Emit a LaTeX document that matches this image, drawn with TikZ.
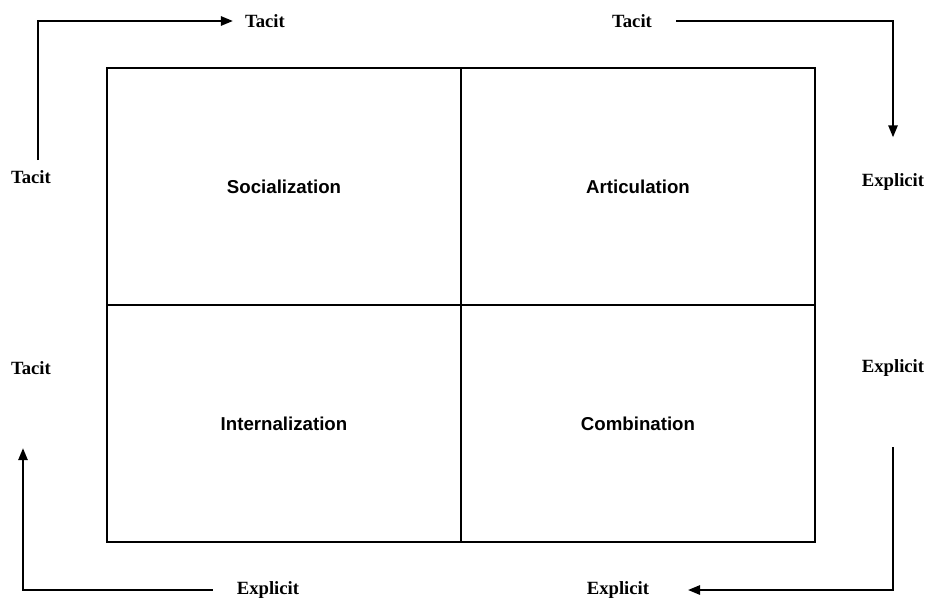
\documentclass[tikz,border=0pt]{standalone}
\usepackage{fontspec}
\setmainfont{Liberation Serif}
\setsansfont{Liberation Sans}
\usetikzlibrary{arrows.meta}
\tikzset{cell/.style={draw,line width=1.4pt,minimum width=265.5pt,minimum height=177.75pt,inner sep=0pt,
                      font=\sffamily\bfseries\fontsize{14}{16}\selectfont}}
\tikzset{mode/.style={inner sep=0pt,font=\bfseries\fontsize{14}{16}\selectfont}}

\begin{document}
\begin{tikzpicture}[x=0.75pt,y=-0.75pt,
                    flow/.style={line width=1.4pt,-{Triangle[length=9pt,width=7pt]}}]

		\useasboundingbox (0,0) rectangle (927,599);

		% The four cells of the matrix
		\node [cell] (soc)  at (284,186.5) {Socialization};
		\node [cell] (art)  at (638,186.5) {Articulation};
		\node [cell] (intl) at (284,423.5) {Internalization};
		\node [cell] (comb) at (638,423.5) {Combination};

		% Labels round the matrix
		\node [mode] (tacitA) at (31,177)  {Tacit};
		\node [mode] (tacitB) at (265,21)  {Tacit};
		\node [mode] (tacitC) at (632,21)  {Tacit};
		\node [mode] (explA)  at (893,182) {Explicit};
		\node [mode] (explB)  at (893,368) {Explicit};
		\node [mode] (explC)  at (618,590) {Explicit};
		\node [mode] (explD)  at (268,590) {Explicit};
		\node [mode] (tacitD) at (31,368)  {Tacit};

		% Tacit to tacit
		\draw [flow, shorten <=7.5pt, shorten >=9pt]
			([xshift=5pt]tacitA.north) |- (tacitB.west);

		% Tacit to explicit
		\draw [flow, shorten <=18pt, shorten >=27pt]
			(tacitC.east) -| (explA.north);

		% Explicit to explicit
		\draw [flow, shorten <=53pt, shorten >=29pt]
			(explB.south) |- (explC.east);

		% Explicit to tacit
		\draw [flow, shorten <=18pt, shorten >=55pt]
			(explD.west) -| ([xshift=-6pt]tacitD.south);

	\end{tikzpicture}
\end{document}
